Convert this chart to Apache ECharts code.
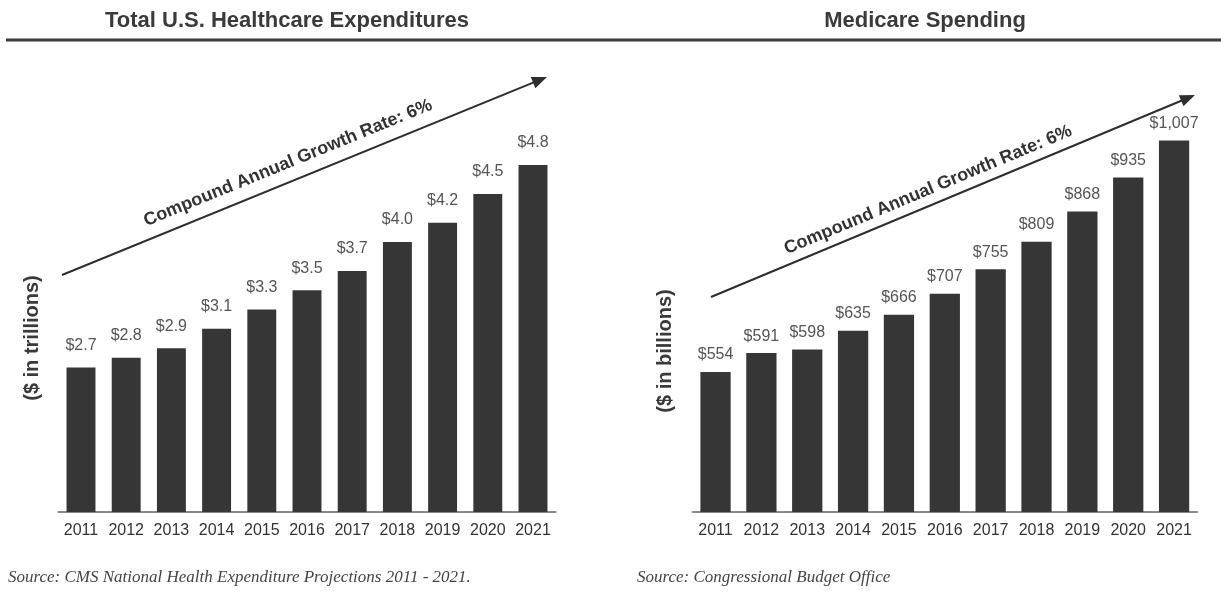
<!DOCTYPE html>
<html><head><meta charset="utf-8">
<script src="https://cdn.jsdelivr.net/npm/echarts@6/dist/echarts.min.js"></script>
<style>html,body{margin:0;padding:0;background:#fff}#c{width:1221px;height:594px}</style>
</head><body><div id="c"></div>
<script>
const years = ['2011','2012','2013','2014','2015','2016','2017','2018','2019','2020','2021'];
const totalValues = [2.7, 2.8, 2.9, 3.1, 3.3, 3.5, 3.7, 4.0, 4.2, 4.5, 4.8];
const medicareValues = [554, 591, 598, 635, 666, 707, 755, 809, 868, 935, 1007];
const leftTitle = 'Total U.S. Healthcare Expenditures';
const rightTitle = 'Medicare Spending';
const leftAxisName = '($ in trillions)';
const rightAxisName = '($ in billions)';
const arrowText = 'Compound Annual Growth Rate: 6%';
const leftSource = 'Source: CMS National Health Expenditure Projections 2011 - 2021.';
const rightSource = 'Source: Congressional Budget Office';

function fmtTrillion(v){ return '$' + v.toFixed(1); }
function fmtBillion(v){ return '$' + String(v).replace(/\B(?=(\d{3})+(?!\d))/g, ','); }

const SANS = '"Liberation Sans", Arial, sans-serif';
const SERIF = '"Liberation Serif", "Times New Roman", serif';
const BAR = '#363636';

function arrow(x1, y1, x2, y2){
  const a = Math.atan2(y2 - y1, x2 - x1);
  const L = 15, W = 6;
  const c = Math.cos(a), s = Math.sin(a);
  const bx = x2 - L * c, by = y2 - L * s;
  return [
    {type:'line', shape:{x1:x1, y1:y1, x2:bx + 2*c, y2:by + 2*s}, style:{stroke:'#2e2e2e', lineWidth:2}},
    {type:'polygon', shape:{points:[[x2,y2],[bx + W*s, by - W*c],[bx - W*s, by + W*c]]}, style:{fill:'#2e2e2e'}}
  ];
}
function arrowLabel(x, y, x1, y1, x2, y2){
  const a = Math.atan2(y2 - y1, x2 - x1);
  return {type:'text', x:x, y:y, rotation:-a,
    style:{text:arrowText, font:'bold 18px ' + SANS, fill:'#333', align:'center', verticalAlign:'middle'}};
}

const chart = echarts.init(document.getElementById('c'), null, {renderer:'canvas'});
const LA = [62, 275, 547, 77];
const RA = [711, 297, 1195, 95];
chart.setOption({
  animation:false,
  backgroundColor:'#fff',
  grid:[
    {left:58.4, right:1221-555.6, top:49.3, bottom:82},
    {left:692.6, right:24, top:42, bottom:82}
  ],
  xAxis:[
    {type:'category', gridIndex:0, data:years,
     axisLine:{lineStyle:{color:'#8a8a8a', width:2}}, axisTick:{show:false},
     axisLabel:{color:'#333', fontSize:16, fontFamily:SANS, margin:11, interval:0}},
    {type:'category', gridIndex:1, data:years,
     axisLine:{lineStyle:{color:'#8a8a8a', width:2}}, axisTick:{show:false},
     axisLabel:{color:'#333', fontSize:16, fontFamily:SANS, margin:11, interval:0}}
  ],
  yAxis:[
    {type:'value', gridIndex:0, min:1.2, max:6, show:false, splitLine:{show:false}},
    {type:'value', gridIndex:1, min:280, max:1200, show:false, splitLine:{show:false}}
  ],
  series:[
    {type:'bar', xAxisIndex:0, yAxisIndex:0, data:totalValues, barCategoryGap:'36%',
     itemStyle:{color:BAR},
     label:{show:true, position:'top', distance:14, color:'#555', fontSize:16, fontFamily:SANS,
       formatter:p => fmtTrillion(p.value)}},
    {type:'bar', xAxisIndex:1, yAxisIndex:1, data:medicareValues, barCategoryGap:'34%',
     itemStyle:{color:BAR},
     label:{show:true, position:'top', distance:9, color:'#555', fontSize:16, fontFamily:SANS,
       formatter:p => fmtBillion(p.value)}}
  ],
  graphic:[
    {type:'text', x:287, y:21, style:{text:leftTitle, font:'bold 22px ' + SANS, fill:'#3a3a3a', align:'center', verticalAlign:'middle'}},
    {type:'text', x:925, y:21, style:{text:rightTitle, font:'bold 22px ' + SANS, fill:'#3a3a3a', align:'center', verticalAlign:'middle'}},
    {type:'line', shape:{x1:6, y1:40, x2:1221, y2:40}, style:{stroke:'#3a3a3a', lineWidth:3}},
    {type:'text', x:32, y:338, rotation:Math.PI/2, style:{text:leftAxisName, font:'bold 20px ' + SANS, fill:'#3a3a3a', align:'center', verticalAlign:'middle'}},
    {type:'text', x:665, y:351, rotation:Math.PI/2, style:{text:rightAxisName, font:'bold 20px ' + SANS, fill:'#3a3a3a', align:'center', verticalAlign:'middle'}},
    ...arrow(...LA),
    arrowLabel(288, 163, ...LA),
    ...arrow(...RA),
    arrowLabel(928, 190, ...RA),
    {type:'text', x:8, y:578, style:{text:leftSource, font:'italic 17px ' + SERIF, fill:'#444', align:'left', verticalAlign:'middle'}},
    {type:'text', x:637, y:578, style:{text:rightSource, font:'italic 17px ' + SERIF, fill:'#444', align:'left', verticalAlign:'middle'}}
  ]
});
</script>
</body></html>
